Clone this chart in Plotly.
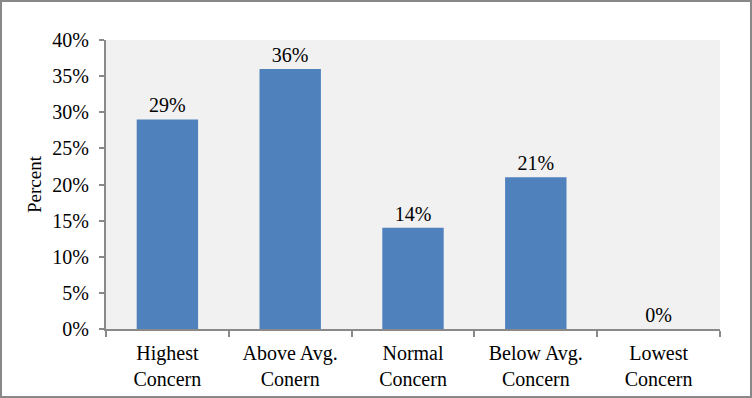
import plotly.graph_objects as go

categories = ["Highest<br>Concern", "Above Avg.<br>Conern", "Normal<br>Concern", "Below Avg.<br>Concern", "Lowest<br>Concern"]
values = [29, 36, 14, 21, 0]
labels = ["29%", "36%", "14%", "21%", "0%"]
y_ticks = [0, 5, 10, 15, 20, 25, 30, 35, 40]
y_tick_labels = ["0%", "5%", "10%", "15%", "20%", "25%", "30%", "35%", "40%"]

W, H = 752, 398
L, R, T, B = 106, 32, 40, 69
pw, ph = W - L - R, H - T - B

font = dict(family="Liberation Serif, Times New Roman, serif", size=20, color="black")

fig = go.Figure(go.Bar(
    x=categories, y=values, text=labels, textposition="outside",
    marker=dict(color="#4f81bd", line=dict(width=0)),
    textfont=font, cliponaxis=False, width=0.5,
))

fig.update_layout(
    width=W, height=H, autosize=False,
    margin=dict(l=L, r=R, t=T, b=B, autoexpand=False),
    paper_bgcolor="white", plot_bgcolor="#f1f1f1",
    font=font, showlegend=False,
    xaxis=dict(showline=True, linecolor="#898989", linewidth=2, ticks="outside",
               tickson="boundaries", ticklen=6, tickcolor="#898989", tickwidth=2,
               showgrid=False, tickfont=font, ticklabelstandoff=5, automargin=False),
    yaxis=dict(range=[0, 40], tickvals=y_ticks, ticktext=y_tick_labels,
               showline=True, linecolor="#898989", linewidth=2, ticks="outside",
               ticklen=5, tickcolor="#898989", tickwidth=2, showgrid=False,
               zeroline=False, tickfont=font, ticklabelstandoff=6, automargin=False,
               title=dict(text="Percent", font=dict(family=font["family"], size=19, color="black"), standoff=6)),
    shapes=[dict(type="rect", xref="paper", yref="paper",
                 x0=(1 - L) / pw, x1=(W - 1 - L) / pw,
                 y0=(H - B - (H - 1)) / ph, y1=(H - B - 1) / ph,
                 line=dict(color="#888888", width=2), fillcolor="rgba(0,0,0,0)")],
)

fig.write_html("out.html", config={"displayModeBar": False},
               post_script="document.body.style.margin='0';document.body.style.overflow='hidden';")
